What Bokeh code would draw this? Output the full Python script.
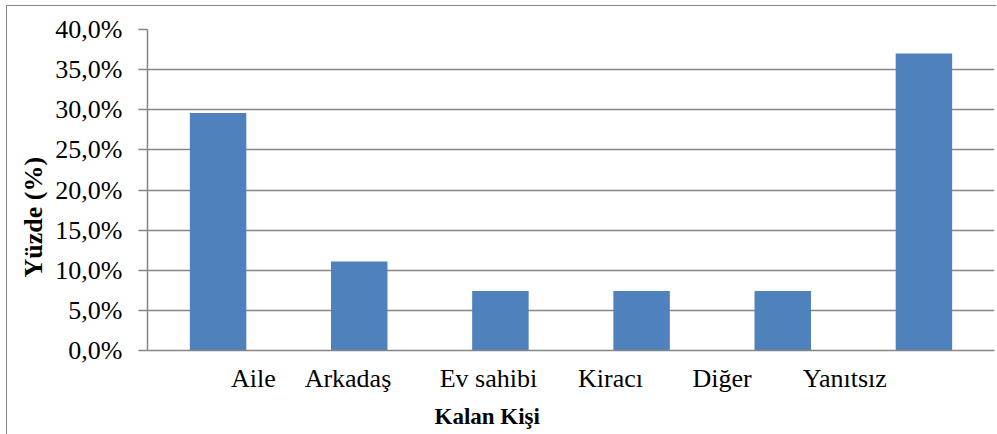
from bokeh.plotting import figure
from bokeh.models import Range1d, FixedTicker, Title, ColumnDataSource
from bokeh.embed import file_html
from bokeh.resources import INLINE

# ---- data ----
categories = ["Aile", "Arkadaş", "Ev sahibi", "Kiracı", "Diğer", "Yanıtsız"]
values = [29.6, 11.1, 7.4, 7.4, 7.4, 37.0]
y_ticks = [0, 5, 10, 15, 20, 25, 30, 35, 40]
y_tick_labels = ["0,0%", "5,0%", "10,0%", "15,0%", "20,0%", "25,0%", "30,0%", "35,0%", "40,0%"]
x_title = "Kalan Kişi"
y_title = "Yüzde (%)"

# ---- layout (positions of the category labels, which sit off-centre in the original) ----
bar_x = [i + 0.5 for i in range(len(categories))]
label_x = [0.75, 1.42, 2.415, 3.28, 4.07, 4.94]

FONT = "Liberation Serif"
GREY = "#868686"

p = figure(width=990, height=429, output_backend="svg", toolbar_location=None,
           x_range=Range1d(0, 6), y_range=Range1d(0, 40),
           min_border_left=140, min_border_right=3, min_border_top=23, min_border_bottom=84)
p.outline_line_color = None
p.background_fill_color = "white"
p.border_fill_color = "white"
p.styles = {"margin-left": "6px", "margin-top": "5px",
            "border-top": "1px solid " + GREY, "border-left": "1px solid " + GREY}

src = ColumnDataSource(dict(x=bar_x, top=values, cat=categories))
p.vbar(x="x", top="top", width=0.4, source=src, fill_color="#4F81BD", line_color=None)

# grid
p.xgrid.grid_line_color = None
p.ygrid.grid_line_color = GREY
p.ygrid.grid_line_width = 1.5
p.ygrid.ticker = FixedTicker(ticks=y_ticks)

# y axis
p.yaxis.ticker = FixedTicker(ticks=y_ticks)
p.yaxis.major_label_overrides = {t: l for t, l in zip(y_ticks, y_tick_labels)}
p.yaxis.axis_line_color = GREY
p.yaxis.axis_line_width = 1.5
p.yaxis.major_tick_line_color = GREY
p.yaxis.major_tick_line_width = 1.5
p.yaxis.major_tick_out = 9
p.yaxis.major_tick_in = 0
p.yaxis.minor_tick_line_color = None
p.yaxis.major_label_standoff = 16
p.yaxis.major_label_text_font = FONT
p.yaxis.major_label_text_font_size = "26px"
p.yaxis.major_label_text_color = "black"

# x axis
p.xaxis.ticker = FixedTicker(ticks=label_x)
p.xaxis.major_label_overrides = {x: c for x, c in zip(label_x, categories)}
p.xaxis.axis_line_color = GREY
p.xaxis.axis_line_width = 1.5
p.xaxis.major_tick_line_color = None
p.xaxis.minor_tick_line_color = None
p.xaxis.major_tick_out = 0
p.xaxis.major_tick_in = 0
p.xaxis.major_label_standoff = 13
p.xaxis.major_label_text_font = FONT
p.xaxis.major_label_text_font_size = "26px"
p.xaxis.major_label_text_color = "black"

# axis titles (placed off-centre like in the original)
p.add_layout(Title(text=y_title, align="left", offset=73, standoff=10,
                   text_font=FONT, text_font_size="26px", text_font_style="bold",
                   text_color="black"), "left")
p.add_layout(Title(text=x_title, align="left", offset=287, standoff=13,
                   vertical_align="bottom",
                   text_font=FONT, text_font_size="23px", text_font_style="bold",
                   text_color="black"), "below")

open("out.html", "w").write(file_html(p, INLINE))
